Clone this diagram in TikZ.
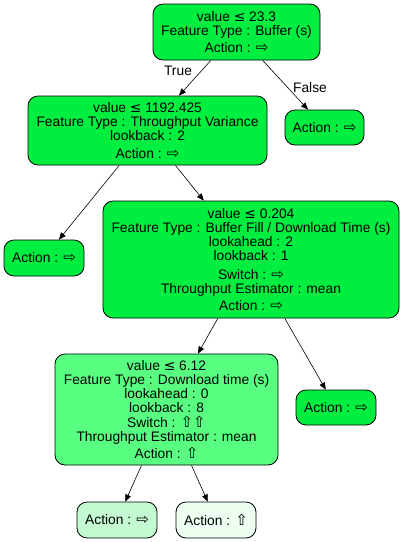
\documentclass[tikz,border=0pt]{standalone}
\usepackage{fontspec}
\setmainfont{Liberation Sans}
\newfontfamily\symfont{DejaVu Sans}
\usetikzlibrary{arrows}
\definecolor{splitgreen}{RGB}{0,238,64}
\definecolor{midgreen}{RGB}{88,255,128}
\definecolor{palegreen}{RGB}{196,250,210}
\definecolor{faintgreen}{RGB}{236,255,241}
\newcommand{\lteq}{{\symfont ≤}}
\newcommand{\rarr}{{\symfont\fontsize{15}{14}\selectfont ⇨}}
\newcommand{\uarr}{{\symfont\fontsize{15}{14}\selectfont ⇧}}
\tikzset{%
  myedge/.style={->, shorten >=0pt, >=triangle 45, line width=0.6pt},
  treenode/.style={draw=black, line width=0.8pt, rounded corners=10pt, fill=splitgreen,
    align=center, inner sep=2pt, font=\fontsize{13.8}{14.2}\selectfont},
  leafnode/.style={treenode, minimum width=80pt, minimum height=36pt}
}
\begin{document}
\begin{tikzpicture}[x=1pt,y=-1pt]
  \useasboundingbox (0,0) rectangle (404,542);
  \node[treenode, minimum width=167pt, minimum height=56pt] (root) at (236.5,32)
    {value \lteq{} 23.3\\Feature Type : Buffer (s)\\[3pt]Action : \rarr};
  \node[treenode, minimum width=239pt, minimum height=69pt] (tpvar) at (147.5,130.5)
    {value \lteq{} 1192.425\\Feature Type : Throughput Variance\\lookback : 2\\[4pt]Action : \rarr};
  \node[leafnode, minimum width=79pt, minimum height=35pt] (falseleaf) at (324.5,127.5) {Action : \rarr};
  \node[leafnode] (tpleaf) at (44,258) {Action : \rarr};
  \node[treenode, minimum width=296pt, minimum height=117pt] (bufdl) at (251,259.5)
    {value \lteq{} 0.204\\Feature Type : Buffer Fill / Download Time (s)\\lookahead : 2\\lookback : 1\\[4pt]
     Switch : \rarr\\Throughput Estimator : mean\\[3pt]Action : \rarr};
  \node[treenode, fill=midgreen, minimum width=223pt, minimum height=111pt] (dltime) at (166.5,409.5)
    {value \lteq{} 6.12\\Feature Type : Download time (s)\\lookahead : 0\\lookback : 8\\[0pt]
     Switch : \uarr\uarr\\Throughput Estimator : mean\\[3pt]Action : \uarr};
  \node[leafnode, minimum height=35pt] (bufleaf) at (336,407.5) {Action : \rarr};
  \node[leafnode, fill=palegreen] (dlleft) at (117,520) {Action : \rarr};
  \node[leafnode, fill=faintgreen] (dlright) at (216,520) {Action : \uarr};
  % edges
  \draw [myedge] (root) -- (tpvar);
  \draw [myedge] (root) -- (falseleaf);
  \draw [myedge] (tpvar) -- (tpleaf);
  \draw [myedge] (tpvar) -- (bufdl);
  \draw [myedge] (bufdl) -- (dltime);
  \draw [myedge] (bufdl) -- (bufleaf);
  \draw [myedge] (dltime) -- (dlleft);
  \draw [myedge] (dltime) -- (dlright);
  \node[font=\fontsize{13.8}{14}\selectfont] (truelbl) at (178,71) {True};
  \node[font=\fontsize{13.8}{14}\selectfont] (falselbl) at (310,88) {False};
\end{tikzpicture}
\end{document}
